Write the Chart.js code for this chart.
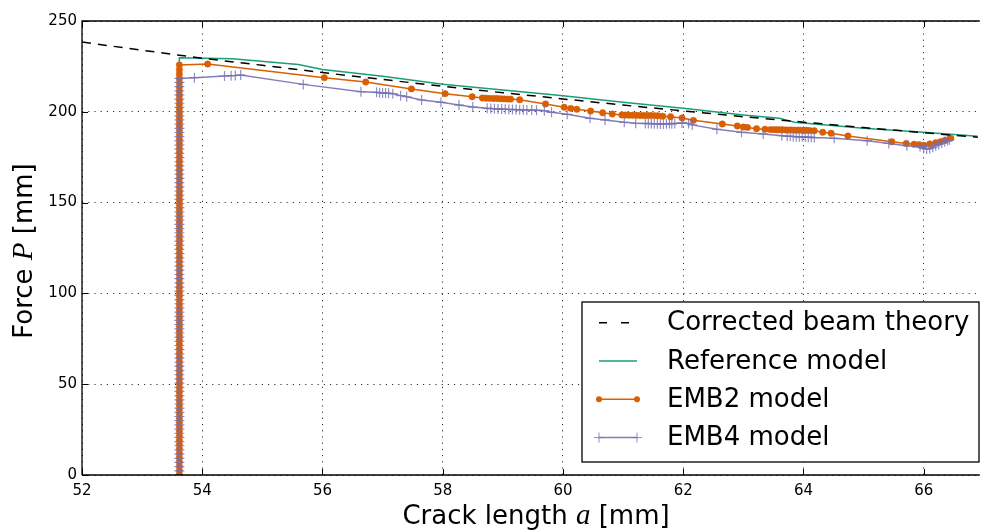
<!DOCTYPE html>
<html>
<head>
<meta charset="utf-8">
<script src="https://cdn.jsdelivr.net/npm/chart.js@4.4.1/dist/chart.umd.min.js"></script>
<style>
  html, body { margin: 0; padding: 0; background: #ffffff; }
  #wrap { width: 984px; height: 530px; overflow: hidden; }
</style>
</head>
<body>
<div id="wrap"><canvas id="chart" width="984" height="530"></canvas></div>
<script>
// Axis ticks
const xTicks = [52, 54, 56, 58, 60, 62, 64, 66];
const yTicks = [0, 50, 100, 150, 200, 250];

// Corrected beam theory
const beamA = [52, 53, 54, 55, 56, 57, 58, 59, 60, 61, 62, 63, 64, 65, 66, 67];
const beamP = [238.4, 233.9, 229.5, 225.6, 221.6, 217.8, 214.1, 210.5, 207.1, 203.7, 200.5, 197.3, 194.3, 191.3, 188.5, 185.7];

// Reference model
const refA = [53.62, 53.62, 54.5, 55.6, 56.0, 57.0, 58.0, 59.0, 59.7, 60.0, 61.0, 62.0, 63.0, 63.6, 63.85, 65.0, 66.0, 66.9];
const refP = [0, 229.8, 229.2, 226.0, 223.3, 219.6, 215.2, 212.0, 209.8, 208.9, 205.3, 201.9, 198.3, 196.5, 194.2, 191.0, 188.7, 186.5];

// EMB2 model: loading at the initial crack length, then propagation
const emb2StartA = 53.62;
const emb2LoadP = [0, 2.4, 4.8, 7.2, 9.6, 12, 14.4, 16.8, 19.2, 21.6, 24, 26.4, 28.8, 31.2, 33.6, 36, 38.4, 40.8, 43.2, 45.6,
  48, 50.4, 52.8, 55.2, 57.6, 60, 62.4, 64.8, 67.2, 69.6, 72, 74.4, 76.8, 79.2, 81.6, 84, 86.4, 88.8, 91.2, 93.6,
  96, 98.4, 100.8, 103.2, 105.6, 108, 110.4, 112.8, 115.2, 117.6, 120, 122.4, 124.8, 127.2, 129.6, 132, 134.4, 136.8,
  139.2, 141.6, 144, 146.4, 148.8, 151.2, 153.6, 156, 158.4, 160.8, 163.2, 165.6, 168, 170.4, 172.8, 175.2, 177.6, 180,
  182.4, 184.8, 187.2, 189.6, 192, 194.4, 196.8, 199.2, 201.6, 204, 206.4, 208.8, 211.2, 213.6, 216, 218.4, 220.8, 223.2, 225.8];
const emb2A = [54.09, 56.03, 56.72, 57.48, 58.04, 58.49, 58.66, 58.72, 58.78, 58.84, 58.9, 58.96, 59.02, 59.08, 59.13, 59.28,
  59.71, 60.02, 60.13, 60.23, 60.46, 60.66, 60.82, 60.98, 61.04, 61.1, 61.16, 61.22, 61.28, 61.34, 61.4, 61.46, 61.52,
  61.58, 61.66, 61.79, 61.98, 62.17, 62.65, 62.9, 63.0, 63.07, 63.22, 63.36, 63.45, 63.5, 63.55, 63.6, 63.65, 63.7,
  63.75, 63.8, 63.85, 63.9, 63.95, 64.0, 64.05, 64.1, 64.18, 64.32, 64.46, 64.74, 65.47, 65.71, 65.84, 65.92, 66.0,
  66.1, 66.2, 66.28, 66.36, 66.45];
const emb2P = [226.3, 218.8, 216.4, 212.6, 210.0, 208.3, 207.6, 207.5, 207.4, 207.3, 207.3, 207.2, 207.1, 207.0, 207.0, 206.6,
  204.3, 202.5, 201.9, 201.4, 200.4, 199.5, 198.8, 198.2, 198.2, 198.1, 198.1, 198.1, 198.0, 198.0, 198.0, 198.0, 197.9,
  197.8, 197.6, 197.3, 196.6, 195.3, 193.3, 192.2, 191.6, 191.4, 190.7, 190.4, 190.2, 190.2, 190.1, 190.1, 190.1, 190.0,
  190.0, 190.0, 189.9, 189.9, 189.9, 189.8, 189.8, 189.7, 189.6, 188.7, 188.2, 186.7, 183.5, 182.6, 182.1, 181.9, 181.6,
  182.3, 183.0, 183.6, 184.4, 185.4];

// EMB4 model: loading at the initial crack length, then propagation
const emb4StartA = 53.62;
const emb4LoadP = [0, 2.3, 4.6, 6.9, 9.2, 11.5, 13.8, 16.1, 18.4, 20.7, 23, 25.3, 27.6, 29.9, 32.2, 34.5, 36.8, 39.1, 41.4,
  43.7, 46, 48.3, 50.6, 52.9, 55.2, 57.5, 59.8, 62.1, 64.4, 66.7, 69, 71.3, 73.6, 75.9, 78.2, 80.5, 82.8, 85.1, 87.4,
  89.7, 92, 94.3, 96.6, 98.9, 101.2, 103.5, 105.8, 108.1, 110.4, 112.7, 115, 117.3, 119.6, 121.9, 124.2, 126.5, 128.8,
  131.1, 133.4, 135.7, 138, 140.3, 142.6, 144.9, 147.2, 149.5, 151.8, 154.1, 156.4, 158.7, 161, 163.3, 165.6, 167.9,
  170.2, 172.5, 174.8, 177.1, 179.4, 181.7, 184, 186.3, 188.6, 190.9, 193.2, 195.5, 197.8, 200.1, 202.4, 204.7, 207,
  209.3, 211.6, 213.9, 216.2, 218.4];
const emb4A = [53.87, 54.37, 54.48, 54.55, 54.64, 55.68, 56.64, 56.9, 56.95, 57.0, 57.05, 57.1, 57.17, 57.3, 57.4, 57.65,
  57.97, 58.27, 58.5, 58.74, 58.8, 58.86, 58.92, 58.98, 59.04, 59.1, 59.16, 59.22, 59.28, 59.34, 59.4, 59.48, 59.56,
  59.69, 59.81, 60.07, 60.45, 60.7, 61.02, 61.21, 61.37, 61.42, 61.47, 61.52, 61.57, 61.62, 61.67, 61.72, 61.77, 61.81,
  61.86, 61.98, 62.09, 62.15, 62.56, 62.97, 63.33, 63.64, 63.73, 63.78, 63.83, 63.88, 63.93, 63.98, 64.03, 64.08, 64.13,
  64.18, 64.51, 65.06, 65.42, 65.72, 65.94, 66.0, 66.05, 66.1, 66.15, 66.2, 66.25, 66.3, 66.35, 66.4, 66.43];
const emb4P = [218.8, 219.7, 219.9, 220.0, 220.2, 215.1, 211.1, 210.7, 210.5, 210.4, 210.3, 210.2, 210.0, 208.9, 208.3, 206.5,
  205.2, 203.7, 202.6, 201.9, 201.8, 201.7, 201.6, 201.5, 201.4, 201.3, 201.2, 201.2, 201.1, 201.1, 201.0, 201.0, 200.9,
  200.6, 199.7, 198.6, 196.4, 195.5, 194.2, 193.7, 193.6, 193.5, 193.5, 193.4, 193.4, 193.3, 193.3, 193.4, 193.5, 193.4,
  193.6, 193.9, 193.6, 192.8, 190.4, 188.7, 187.8, 186.8, 186.6, 186.5, 186.4, 186.3, 186.2, 186.2, 186.1, 186.0, 185.9,
  185.8, 185.4, 184.1, 182.6, 181.3, 180.8, 179.8, 179.5, 179.8, 180.5, 181.3, 182.0, 182.8, 183.5, 184.2, 184.6];

const toPoints = (xs, ys) => xs.map((x, i) => ({ x: x, y: ys[i] }));
const withLoading = (a0, loadP, xs, ys) => loadP.map(p => ({ x: a0, y: p })).concat(toPoints(xs, ys));

const GREEN = '#1b9e77';
const ORANGE = '#d95f02';
const SANS = '"DejaVu Sans", sans-serif';
const MATH = 'italic 29px "Liberation Serif", "DejaVu Serif", serif';
const BODY = '26px ' + SANS;

const datasets = [
  {
    label: 'Corrected beam theory',
    data: toPoints(beamA, beamP),
    borderColor: '#000000', borderWidth: 1.5, borderDash: [9, 7],
    pointRadius: 0, showLine: true, order: 0
  },
  {
    label: 'Reference model',
    data: toPoints(refA, refP),
    borderColor: GREEN, borderWidth: 1.5,
    pointRadius: 0, showLine: true, order: 3
  },
  {
    label: 'EMB2 model',
    data: withLoading(emb2StartA, emb2LoadP, emb2A, emb2P),
    borderColor: ORANGE, borderWidth: 1.5,
    pointStyle: 'circle', pointRadius: 3.2, pointBackgroundColor: ORANGE, pointBorderColor: ORANGE, pointBorderWidth: 0.5,
    showLine: true, order: 2
  },
  {
    label: 'EMB4 model',
    data: withLoading(emb4StartA, emb4LoadP, emb4A, emb4P),
    borderColor: 'rgba(117,112,179,0.9)', borderWidth: 1.5,
    pointStyle: 'cross', pointRadius: 5, pointBorderColor: 'rgba(117,112,179,0.8)', pointBorderWidth: 1.2,
    showLine: true, order: 1
  }
];

// Frame, inward tick marks, axis titles and boxed legend
const decorations = {
  id: 'decorations',
  afterDraw(chart) {
    const ctx = chart.ctx;
    const area = chart.chartArea;
    const xs = chart.scales.x, ys = chart.scales.y;
    ctx.save();
    ctx.strokeStyle = '#000';
    ctx.lineWidth = 1.3;
    ctx.setLineDash([]);
    ctx.beginPath();
    ctx.moveTo(area.left, area.bottom); ctx.lineTo(area.left, area.top); ctx.lineTo(area.right + 2, area.top);
    ctx.moveTo(area.left, area.bottom); ctx.lineTo(area.right + 2, area.bottom);
    ctx.stroke();
    ctx.lineWidth = 1;
    ctx.beginPath();
    xTicks.forEach(v => {
      const px = Math.round(xs.getPixelForValue(v)) + 0.5;
      ctx.moveTo(px, area.bottom); ctx.lineTo(px, area.bottom - 6);
      ctx.moveTo(px, area.top); ctx.lineTo(px, area.top + 6);
    });
    yTicks.forEach(v => {
      const py = Math.round(ys.getPixelForValue(v)) + 0.5;
      ctx.moveTo(area.left, py); ctx.lineTo(area.left + 6, py);
    });
    ctx.stroke();

    // Axis titles with italic symbols
    const drawPieces = (pieces, cx, cy, rotate) => {
      ctx.save();
      ctx.translate(cx, cy);
      if (rotate) ctx.rotate(-Math.PI / 2);
      let total = 0;
      pieces.forEach(p => { ctx.font = p.font; total += ctx.measureText(p.text).width; });
      let x = -total / 2;
      ctx.fillStyle = '#000';
      ctx.textBaseline = 'alphabetic';
      ctx.textAlign = 'left';
      pieces.forEach(p => { ctx.font = p.font; ctx.fillText(p.text, x, 0); x += ctx.measureText(p.text).width; });
      ctx.restore();
    };
    drawPieces([{ text: 'Crack length ', font: BODY }, { text: 'a', font: MATH }, { text: ' [mm]', font: BODY }], 536, 524, false);
    drawPieces([{ text: 'Force ', font: BODY }, { text: 'P', font: MATH }, { text: ' [mm]', font: BODY }], 32, 251, true);

    // Legend box
    const box = { left: 582, top: 302, right: 979, bottom: 462 };
    ctx.fillStyle = '#ffffff';
    ctx.fillRect(box.left, box.top, box.right - box.left, box.bottom - box.top);
    ctx.strokeStyle = '#000';
    ctx.lineWidth = 1.3;
    ctx.strokeRect(box.left, box.top, box.right - box.left, box.bottom - box.top);
    const rows = [322.7, 361, 399.3, 437.6];
    const x0 = 599, x1 = 637;
    chart.data.datasets.forEach((ds, i) => {
      const y = rows[i];
      ctx.save();
      ctx.strokeStyle = ds.borderColor;
      ctx.lineWidth = ds.borderWidth;
      if (i === 0) ctx.setLineDash([8, 14]); else ctx.setLineDash([]);
      ctx.beginPath(); ctx.moveTo(x0, y); ctx.lineTo(x1, y); ctx.stroke();
      ctx.setLineDash([]);
      if (ds.pointStyle === 'circle') {
        ctx.fillStyle = ds.pointBackgroundColor;
        [x0, x1].forEach(px => { ctx.beginPath(); ctx.arc(px, y, 3, 0, Math.PI * 2); ctx.fill(); });
      } else if (ds.pointStyle === 'cross') {
        ctx.strokeStyle = ds.pointBorderColor;
        ctx.lineWidth = 1;
        ctx.beginPath();
        [x0, x1].forEach(px => { ctx.moveTo(px - 5, y); ctx.lineTo(px + 5, y); ctx.moveTo(px, y - 5); ctx.lineTo(px, y + 5); });
        ctx.stroke();
      }
      ctx.restore();
      ctx.fillStyle = '#000';
      ctx.font = BODY;
      ctx.textAlign = 'left';
      ctx.textBaseline = 'middle';
      ctx.fillText(ds.label, 667, y + 1);
    });
    ctx.restore();
  }
};

new Chart(document.getElementById('chart'), {
  type: 'scatter',
  data: { datasets: datasets },
  options: {
    responsive: false,
    animation: false,
    devicePixelRatio: 1,
    events: [],
    layout: { padding: { top: 21, left: 0, right: 0, bottom: 0 } },
    plugins: { legend: { display: false }, tooltip: { enabled: false } },
    elements: { line: { tension: 0 } },
    scales: {
      x: {
        type: 'linear', min: 52, max: 66.9,
        afterBuildTicks: s => { s.ticks = xTicks.map(v => ({ value: v })); },
        afterFit: s => { s.height = 55; },
        grid: { color: 'rgba(0,0,0,0.8)', lineWidth: 1, drawTicks: false },
        border: { display: false, dash: [1.2, 5] },
        ticks: { color: '#000', font: { family: SANS, size: 15 }, padding: 7, maxRotation: 0, callback: v => String(v) }
      },
      y: {
        type: 'linear', min: 0, max: 250,
        afterBuildTicks: s => { s.ticks = yTicks.map(v => ({ value: v })); },
        afterFit: s => { s.width = 82; },
        grid: { color: 'rgba(0,0,0,0.8)', lineWidth: 1, drawTicks: false },
        border: { display: false, dash: [1.2, 5] },
        ticks: { color: '#000', font: { family: SANS, size: 15 }, padding: 5, callback: v => String(v) }
      }
    }
  },
  plugins: [decorations]
});
</script>
</body>
</html>
